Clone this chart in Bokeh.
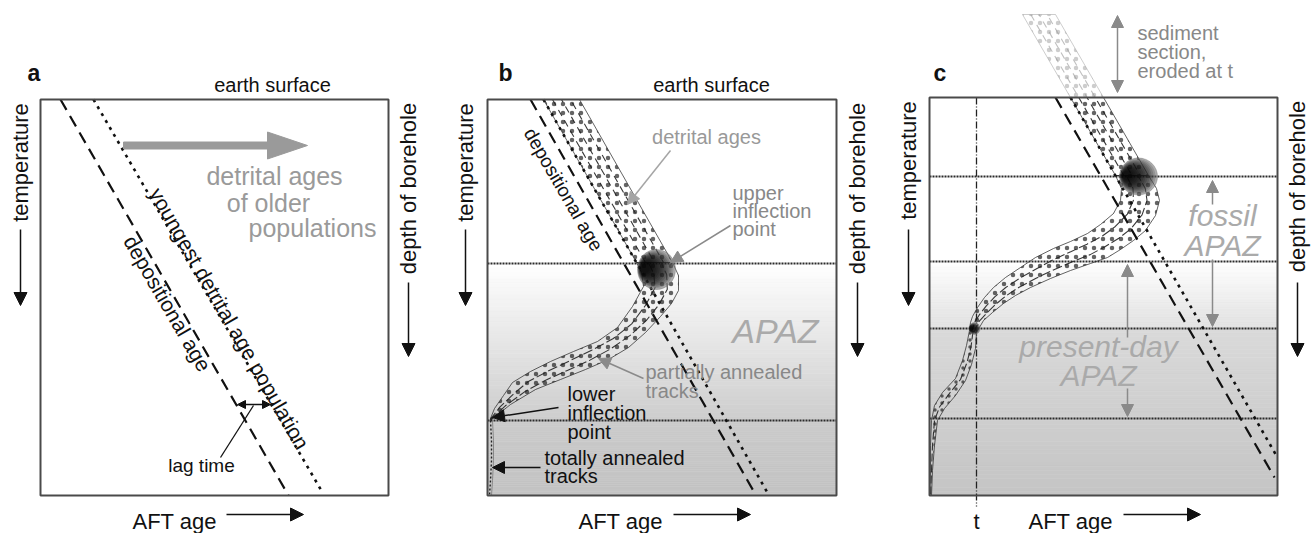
import numpy as np
from bokeh.plotting import figure
from bokeh.models import Arrow, NormalHead, Range1d
from bokeh.core.properties import value
from bokeh.embed import file_html
from bokeh.resources import INLINE

FONT = "Liberation Sans"

# ---------------- data ----------------
panel_letters = ["a", "b", "c"]
letter_x = [27, 498, 933]
letter_y = [72, 72, 72]

box_left = [40, 487, 929]
box_right = [388, 836, 1277]
box_top = [99, 99, 97]
box_bottom = [495, 495, 495]

# depositional age (dashed) and youngest detrital age population (dotted)
dep_x0 = [60, 530, 1055]
dep_y0 = [99, 99, 97]
dep_x1 = [288, 755, 1274]
dep_y1 = [495, 494, 477]
yda_x0 = [93, 543, 1070]
yda_y0 = [99, 99, 97]
yda_x1 = [322, 768, 1277]
yda_y1 = [492, 494, 457]

# zone boundaries (dotted horizontal lines)
b_zone_y = [263, 420]
c_zone_y = [176, 261, 328, 418]

# panel b: detrital age band (upper straight part + bent APAZ part + tail)
b_upl_x = [543, 636]
b_upl_y = [99, 262]
b_upr_x = [579, 672]
b_upr_y = [99, 262]
b_in_x = [636, 641, 643, 632, 617, 597, 573, 550, 530, 512, 503, 494, 490]
b_in_y = [262, 272, 286, 306, 327, 341, 351, 361, 371, 382, 395, 408, 418]
b_out_x = [672, 678, 678, 671, 660, 645, 628, 608, 585, 560, 535, 510, 490]
b_out_y = [262, 275, 290, 303, 316, 332, 347, 359, 369, 379, 389, 404, 420]
b_tail_x = [490, 491, 491, 490, 489]
b_tail_y = [420, 440, 460, 480, 495]

# panel c: eroded part above surface, preserved part, bent part, tail
c_erl_x = [1022, 1070]
c_erl_y = [14, 97]
c_err_x = [1055, 1103]
c_err_y = [14, 97]
c_upl_x = [1070, 1115]
c_upl_y = [97, 175]
c_upr_x = [1103, 1148]
c_upr_y = [97, 175]
c_in_x = [1115, 1121, 1120, 1113, 1100, 1087, 1070, 1053, 1035, 1020, 1005, 993, 984, 977, 972, 970, 969]
c_in_y = [175, 188, 200, 213, 224, 233, 241, 248, 257, 267, 277, 287, 297, 307, 316, 322, 330]
c_out_x = [1148, 1156, 1159, 1155, 1145, 1133, 1120, 1107, 1090, 1070, 1050, 1030, 1015, 1003, 992, 983, 976]
c_out_y = [175, 188, 200, 215, 230, 240, 249, 257, 263, 270, 278, 287, 295, 303, 312, 320, 332]
c_tl_x = [969, 966, 962, 955, 942, 934, 931, 930, 930, 929]
c_tl_y = [330, 345, 360, 378, 392, 405, 420, 445, 470, 495]
c_tr_x = [976, 975, 971, 965, 955, 944, 937, 934, 932, 931]
c_tr_y = [332, 348, 364, 380, 395, 408, 420, 445, 470, 495]
c_t_x = 976

# inflection points (x, y, width, height)
blob_x = [656, 1138, 974]
blob_y = [269, 176, 328]
blob_w = [38, 38, 11]
blob_h = [40, 37, 12]

# ---------------- figure ----------------
p = figure(width=1314, height=533, x_range=Range1d(0, 1314), y_range=Range1d(533, 0),
           output_backend="svg", toolbar_location=None, min_border=0)
p.axis.visible = False
p.grid.visible = False
p.outline_line_color = None


def gradient(x0, x1, y0, y1, g0, g1, n=40):
    ys = np.linspace(y0, y1, n + 1)
    gs = np.linspace(g0, g1, n)
    cols = ["#%02x%02x%02x" % (int(g), int(g), int(g)) for g in gs]
    p.quad(left=x0, right=x1, top=ys[:-1], bottom=ys[1:], fill_color=cols,
           line_color=cols, line_width=0.6)


gradient(box_left[1], box_right[1], b_zone_y[0], b_zone_y[1], 255, 206)
gradient(box_left[1], box_right[1], b_zone_y[1], box_bottom[1], 203, 196)
gradient(box_left[2], box_right[2], c_zone_y[1], c_zone_y[2], 255, 226)
gradient(box_left[2], box_right[2], c_zone_y[2], box_bottom[2], 218, 197)

# zone lines
p.segment(x0=box_left[1], x1=box_right[1], y0=b_zone_y, y1=b_zone_y,
          line_color="#2a2a2a", line_width=2, line_dash="2 1")
p.segment(x0=box_left[2], x1=box_right[2], y0=c_zone_y, y1=c_zone_y,
          line_color="#2a2a2a", line_width=2, line_dash="2 1")

# t line
p.segment(x0=c_t_x, x1=c_t_x, y0=box_top[2], y1=506, line_color="#222",
          line_width=1.3, line_dash="7 2 1 2")


def band(inx, iny, outx, outy, fracs, dash, col="#222", alpha=1.0, dot_scale=9):
    xs = list(inx) + list(outx)[::-1]
    ys = list(iny) + list(outy)[::-1]
    p.patch(xs, ys, fill_color=None, line_color=col, line_width=1, line_alpha=0.7 * alpha,
            hatch_pattern="dot", hatch_color=col, hatch_scale=dot_scale,
            hatch_weight=0.9, hatch_alpha=0.7 * alpha)
    ix, iy, ox, oy = map(np.array, (inx, iny, outx, outy))
    for k, f in enumerate(fracs):
        p.line(ix + (ox - ix) * f, iy + (oy - iy) * f, line_color=col,
               line_width=1.1, line_dash=dash, line_dash_offset=4 * k, line_alpha=0.9 * alpha)


band(b_upl_x, b_upl_y, b_upr_x, b_upr_y, (0.25, 0.5, 0.75), "7 5")
band(b_in_x, b_in_y, b_out_x, b_out_y, (0.33, 0.68), "10 3")
p.line(b_tail_x, b_tail_y, line_color="#222", line_width=1.4, line_dash="2 2")
p.line(np.array(b_tail_x) + 2, b_tail_y, line_color="#777", line_width=0.8)

band(c_erl_x, c_erl_y, c_err_x, c_err_y, (0.25, 0.5, 0.75), "7 5", col="#9a9a9a", alpha=0.7)
band(c_upl_x, c_upl_y, c_upr_x, c_upr_y, (0.25, 0.5, 0.75), "7 5")
band(c_in_x, c_in_y, c_out_x, c_out_y, (0.33, 0.68), "10 3")
band(c_tl_x, c_tl_y, c_tr_x, c_tr_y, (0.5,), "8 3", dot_scale=7)

# dashed / dotted age lines
p.segment(x0=dep_x0, y0=dep_y0, x1=dep_x1, y1=dep_y1, line_color="#111",
          line_width=2.2, line_dash="12 7")
p.segment(x0=yda_x0, y0=yda_y0, x1=yda_x1, y1=yda_y1, line_color="#111",
          line_width=2.6, line_dash="3 5")

# inflection blobs (layered shading)
for bx, by, bw, bh in zip(blob_x, blob_y, blob_w, blob_h):
    p.ellipse(x=bx, y=by, width=bw, height=bh, fill_color="#9a9a9a", fill_alpha=0.5,
              line_color="#777", line_alpha=0.4, line_width=1)
    n = 14
    for i in range(n):
        f = i / (n - 1)
        p.ellipse(x=bx - 0.3 * bw * f, y=by - 0.03 * bh * f,
                  width=bw * (1 - 0.75 * f), height=bh * (1 - 0.75 * f),
                  fill_color="black", fill_alpha=0.15, line_color=None)

# boxes
p.quad(left=box_left, right=box_right, top=box_top, bottom=box_bottom,
       fill_color=None, line_color="#4a4a4a", line_width=2)

# gray big arrow in a
big_arrow_x = [123, 267, 267, 307, 267, 267, 123]
big_arrow_y = [141.5, 141.5, 131.5, 145, 158.5, 148.5, 148.5]
p.patch(big_arrow_x, big_arrow_y, fill_color="#9a9a9a", line_color="#9a9a9a")


# ---------------- texts ----------------
def txt(xs, ys, texts, size, color="#111", angle=0.0, align="center",
        baseline="middle", style="normal"):
    p.text(x=xs, y=ys, text=texts, text_font=value(FONT),
           text_font_size=f"{size}px", text_color=color, angle=angle,
           text_align=align, text_baseline=baseline, text_font_style=style)


txt(letter_x, letter_y, panel_letters, 23, align="left", baseline="alphabetic", style="bold")
txt([272, 711], [84, 84], ["earth surface", "earth surface"], 20)
txt([132, 578, 1028], [521, 521, 521], ["AFT age"] * 3, 22, align="left", baseline="alphabetic")
txt([c_t_x], [521], ["t"], 22, baseline="alphabetic")
txt([20, 465, 908], [162, 162, 160], ["temperature"] * 3, 22, angle=np.pi / 2)
txt([408, 857, 1297], [188, 188, 186], ["depth of borehole"] * 3, 22, angle=np.pi / 2)

# panel a
txt([274, 268, 312], [175, 202, 227], ["detrital ages", "of older", "populations"], 25, color="#9a9a9a")
txt([229], [318], ["youngest detrital age population"], 21, angle=-np.pi / 3)
txt([167], [303], ["depositional age"], 21, angle=-np.pi / 3)
txt([201], [465], ["lag time"], 19)

# panel b
txt([563], [189], ["depositional age"], 19, angle=-np.pi / 3)
txt([706], [136], ["detrital ages"], 20, color="#999")
txt([732, 732, 732], [192, 210, 228], ["upper", "inflection", "point"], 20, color="#888", align="left")
txt([775], [330], ["APAZ"], 34, color="#aaa", style="italic")
txt([645, 645], [371, 390], ["partially annealed", "tracks"], 20, color="#888", align="left")
txt([567, 567, 567], [393, 412, 431], ["lower", "inflection", "point"], 20, align="left")
txt([544, 544], [457, 475], ["totally annealed", "tracks"], 20, align="left")

# panel c
txt([1137, 1137, 1137], [32, 51, 70], ["sediment", "section,", "eroded at t"], 20, color="#888", align="left")
txt([1222, 1222], [215, 245], ["fossil", "APAZ"], 30, color="#aaa", style="italic")
txt([1098, 1098], [346, 375], ["present-day", "APAZ"], 30, color="#aaa", style="italic")


# ---------------- arrows ----------------
def arrow(x0, y0, x1, y1, color="#111", size=11, both=False, width=1.5):
    head = NormalHead(size=size, fill_color=color, line_color=color)
    start = NormalHead(size=size, fill_color=color, line_color=color) if both else None
    p.add_layout(Arrow(x_start=x0, y_start=y0, x_end=x1, y_end=y1, end=head, start=start,
                       line_color=color, line_width=width))


for x in [20, 465, 908]:
    arrow(x, 229, x, 305, size=13)
for x in [408, 857, 1297]:
    arrow(x, 282, x, 356, size=13)
for x0, x1 in [(226, 303), (673, 750), (1123, 1200)]:
    arrow(x0, 514, x1, 514, size=13)

# a
arrow(237, 404, 270, 404, size=8, both=True)
p.line([253, 220], [405, 457], line_color="#111", line_width=1.3)

GR = "#8a8a8a"
# b
arrow(670, 150, 627, 204, color="#a5a5a5", size=12)
arrow(730, 225, 670, 262, color=GR, size=12)
arrow(643, 378, 598, 358, color=GR, size=12)
arrow(558, 407, 492, 417, size=12)
arrow(540, 467, 492, 467, size=12)
# c
arrow(1117, 15, 1117, 92, color=GR, size=12, both=True)
arrow(1212, 204, 1212, 180, color=GR, size=12)
arrow(1212, 259, 1212, 326, color=GR, size=12)
arrow(1127, 337, 1127, 264, color=GR, size=12)
arrow(1127, 388, 1127, 416, color=GR, size=12)

open("out.html", "w").write(file_html(p, INLINE))
